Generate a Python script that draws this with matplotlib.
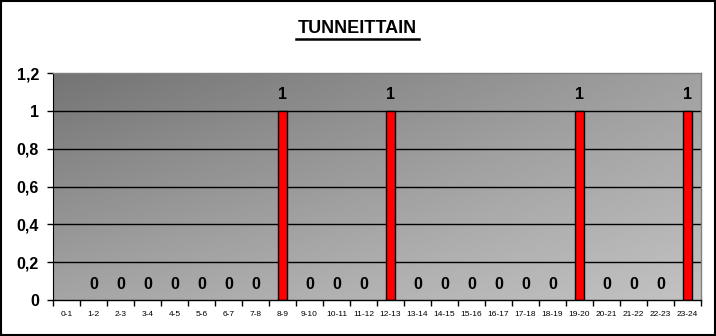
import matplotlib
matplotlib.use("Agg")
import matplotlib.pyplot as plt
import numpy as np
from matplotlib.lines import Line2D
from matplotlib.patches import Rectangle

categories = ["0-1", "1-2", "2-3", "3-4", "4-5", "5-6", "6-7", "7-8", "8-9", "9-10",
              "10-11", "11-12", "12-13", "13-14", "14-15", "15-16", "16-17", "17-18",
              "18-19", "19-20", "20-21", "21-22", "22-23", "23-24"]
values = [None, 0, 0, 0, 0, 0, 0, 0, 1, 0, 0, 0, 1, 0, 0, 0, 0, 0, 0, 1, 0, 0, 0, 1]
yticks = [0, 0.2, 0.4, 0.6, 0.8, 1.0, 1.2]
ytick_labels = ["0", "0,2", "0,4", "0,6", "0,8", "1", "1,2"]
title = "TUNNEITTAIN"

plt.rcParams['font.family'] = ['Liberation Sans', 'DejaVu Sans']

fig = plt.figure(figsize=(7.16, 3.36), dpi=100)
ax = fig.add_axes([53/716, 1-300/336, 648/716, 227/336])

# diagonal gradient background (dark top-left -> light bottom-right)
tl, tr, bl, br = 0x74, 0xa0, 0xa5, 0xc2
u = np.linspace(0, 1, 200)[None, :]
w = np.linspace(0, 1, 100)[:, None]
grad = (tl * (1 - u) * (1 - w) + tr * u * (1 - w) + bl * (1 - u) * w + br * u * w) / 255.0
ax.imshow(grad, cmap='gray', vmin=0, vmax=1, interpolation='bilinear',
          extent=[0, 1, 0, 1], transform=ax.transAxes, aspect='auto', zorder=0)

x = np.arange(len(categories))
ax.set_xlim(-0.5, len(categories) - 0.5)
ax.set_ylim(0, 1.2)

for yv in yticks[1:-1]:
    ax.axhline(yv, color='black', lw=1, zorder=1)

for xi, v in zip(x, values):
    if v is None:
        continue
    if v > 0:
        ax.bar(xi, v, width=0.37, color='#ff0000', edgecolor='black', lw=1, zorder=2)
    ax.annotate(str(v), (xi, v), xytext=(0, 6), textcoords='offset points',
                ha='center', va='bottom', fontsize=11.5, fontweight='bold', zorder=3)

ax.set_xticks(x)
ax.set_xticklabels(categories, fontsize=6)
ax.tick_params(axis='x', which='major', length=0, pad=8)
ax.set_xticks(np.arange(-0.5, len(categories)), minor=True)
ax.tick_params(axis='x', which='minor', length=4, width=1, direction='out', color='black')

ax.set_yticks(yticks)
ax.set_yticklabels(ytick_labels, fontsize=11.5, fontweight='bold')
ax.tick_params(axis='y', length=4, width=1, direction='out', pad=6)

for s in ['top', 'right']:
    ax.spines[s].set_color('#808080')
    ax.spines[s].set_linewidth(1)
ax.spines['left'].set_color('black')
ax.spines['bottom'].set_color('black')
ax.spines['bottom'].set_linewidth(1)

fig.text(357.5/716, 1 - 28.5/336, title, ha='center', va='center', fontsize=13, fontweight='bold')
fig.add_artist(Line2D([296/716, 419/716], [1 - 39/336, 1 - 39/336], color='black', lw=1.8))

fig.add_artist(Rectangle((0.001, 0.002), 0.997, 0.995, transform=fig.transFigure,
                         fill=False, edgecolor='black', lw=1.5))

fig.savefig("out.png", dpi=100)
